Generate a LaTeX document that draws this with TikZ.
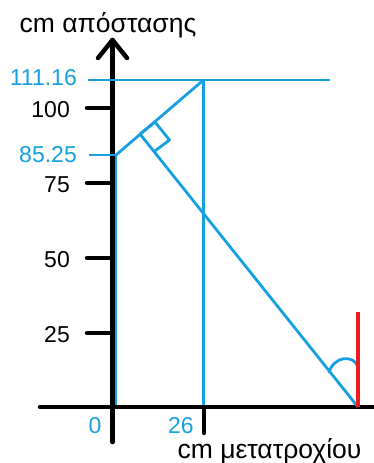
\documentclass[tikz,border=0pt]{standalone}
\usepackage{fontspec}
\setmainfont{Liberation Sans}
\definecolor{skyb}{RGB}{22,160,224}
\definecolor{redl}{RGB}{236,28,36}
\begin{document}
\begin{tikzpicture}[x=1pt,y=-1pt,
  axis/.style={line width=4.5pt,black},
  tickl/.style={line width=4.5pt,black,line cap=round},
  bl/.style={line width=2.8pt,skyb},
  lbl/.style={font=\fontsize{23}{27}\selectfont,inner sep=0pt},
  glbl/.style={font=\fontsize{26.5}{30}\selectfont,inner sep=0pt},
  blbl/.style={lbl,text=skyb}]
\useasboundingbox (0,0) rectangle (374,463);
% coordinates
\coordinate (tip) at (112.5,40);
\coordinate (ybot) at (112.5,442);
\coordinate (xl) at (40,407);
\coordinate (xr) at (374,407);
\coordinate (A) at (116,155);
\coordinate (B) at (203.5,80);
\coordinate (F) at (140,134);
\coordinate (V) at (358,407);
% axes
\draw[tickl] (ybot) -- (tip);
\draw[tickl,line join=round] (98,58) -- (tip) -- (127,58);
\draw[tickl] (xl) -- (xr);
\foreach \yy in {108,183,258,333} \draw[tickl] (87,\yy) -- (112.5,\yy);
\draw[tickl] (204,407) -- (204,433);
% blue construction
\coordinate (h1l) at (88,80);
\coordinate (h1r) at (330,80);
\coordinate (h2l) at (89,155);
\draw[bl] (h1l) -- (h1r);
\draw[bl] (h2l) -- (A);
\draw[bl] (A) -- (116,405);
\draw[bl] (B) -- (203.5,405);
\draw[bl] (A) -- (B);
\draw[bl] (F) -- (V);
% right angle marker
\draw[bl,line join=round] (F) -- (155,122) -- (169.5,140) -- (153.5,152);
% angle arc
\draw[bl] (329,373) .. controls (333,356) and (354,354) .. (358,367);
% red line
\draw[line width=3.2pt,redl] (358,312) -- (V);
% labels
\node[glbl,anchor=base] (ty) at (108,32) {cm απόστασης};
\node[glbl,anchor=base] (tx) at (269.5,458) {cm μετατροχίου};
\node[blbl,anchor=base east] (l111) at (77,85) {111.16};
\node[lbl,anchor=base east] (l100) at (70,117) {100};
\node[blbl,anchor=base east] (l85) at (77,162) {85.25};
\node[lbl,anchor=base east] (l75) at (70,192) {75};
\node[lbl,anchor=base east] (l50) at (70,267) {50};
\node[lbl,anchor=base east] (l25) at (70,342) {25};
\node[blbl,anchor=base] (l0) at (95,433) {0};
\node[blbl,anchor=base] (l26) at (181,433) {26};
\end{tikzpicture}
\end{document}
